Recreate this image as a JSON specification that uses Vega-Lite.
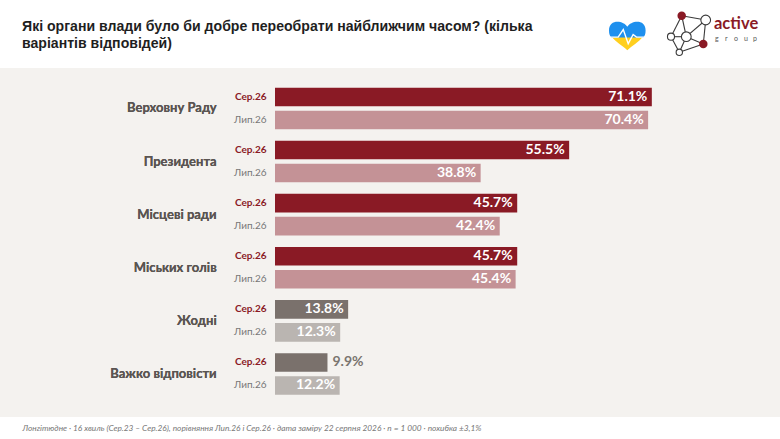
{
"$schema":"https://vega.github.io/schema/vega-lite/v6.json",
"autosize":{"type":"none"},
"padding":{"top":68,"bottom":22,"left":0,"right":0},
"width":780,"height":349,
"background":"#ffffff",
"view":{"fill":"#f4f2ef","stroke":null},
"datasets":{
"bars":[
{"cat":"Верховну Раду","wave":"Сер.26","value":71.1,"label":"71.1%","series":"орган Сер"},
{"cat":"Верховну Раду","wave":"Лип.26","value":70.4,"label":"70.4%","series":"орган Лип"},
{"cat":"Президента","wave":"Сер.26","value":55.5,"label":"55.5%","series":"орган Сер"},
{"cat":"Президента","wave":"Лип.26","value":38.8,"label":"38.8%","series":"орган Лип"},
{"cat":"Місцеві ради","wave":"Сер.26","value":45.7,"label":"45.7%","series":"орган Сер"},
{"cat":"Місцеві ради","wave":"Лип.26","value":42.4,"label":"42.4%","series":"орган Лип"},
{"cat":"Міських голів","wave":"Сер.26","value":45.7,"label":"45.7%","series":"орган Сер"},
{"cat":"Міських голів","wave":"Лип.26","value":45.4,"label":"45.4%","series":"орган Лип"},
{"cat":"Жодні","wave":"Сер.26","value":13.8,"label":"13.8%","series":"інше Сер"},
{"cat":"Жодні","wave":"Лип.26","value":12.3,"label":"12.3%","series":"інше Лип"},
{"cat":"Важко відповісти","wave":"Сер.26","value":9.9,"label":"9.9%","series":"інше Сер"},
{"cat":"Важко відповісти","wave":"Лип.26","value":12.2,"label":"12.2%","series":"інше Лип"}
],
"edges":[
{"id":"a","px":681.7,"py":15.7},{"id":"a","px":705.7,"py":20},
{"id":"b","px":681.7,"py":15.7},{"id":"b","px":671,"py":36.7},
{"id":"c","px":705.7,"py":20},{"id":"c","px":686.3,"py":36.7},
{"id":"d","px":705.7,"py":20},{"id":"d","px":703.3,"py":44},
{"id":"e","px":671,"py":36.7},{"id":"e","px":686.3,"py":36.7},
{"id":"f","px":671,"py":36.7},{"id":"f","px":679.3,"py":52.3},
{"id":"g","px":686.3,"py":36.7},{"id":"g","px":679.3,"py":52.3},
{"id":"h","px":686.3,"py":36.7},{"id":"h","px":703.3,"py":44},
{"id":"i","px":679.3,"py":52.3},{"id":"i","px":703.3,"py":44},
{"id":"j","px":681.7,"py":15.7},{"id":"j","px":686.3,"py":36.7}
],
"nodes":[
{"px":681.7,"py":15.7,"r":42,"kind":"red"},
{"px":705.7,"py":20,"r":95,"kind":"white"},
{"px":671,"py":36.7,"r":50,"kind":"white"},
{"px":686.3,"py":36.7,"r":95,"kind":"white"},
{"px":703.3,"py":44,"r":42,"kind":"red"},
{"px":679.3,"py":52.3,"r":40,"kind":"white"}
],
"heading":[
{"px":22,"py":27,"line":"Які органи влади було би добре переобрати найближчим часом? (кілька"},
{"px":22,"py":44,"line":"варіантів відповідей)"}
],
"heart":[{"px":627.3,"py":36}],
"brand":[{"px":714,"py":29,"name":"active"}],
"brand2":[{"px":715,"py":41,"name":"g"},{"px":725,"py":41,"name":"r"},{"px":734,"py":41,"name":"o"},{"px":744,"py":41,"name":"u"},{"px":753,"py":41,"name":"p"}]
},
"resolve":{"scale":{"x":"independent","y":"independent"},"axis":{"x":"independent","y":"independent"}},
"layer":[
{"data":{"name":"bars"},
"encoding":{
"x":{"field":"value","type":"quantitative","scale":{"domain":[-51.887,95.283],"nice":false,"zero":false},"axis":{"domain":false,"ticks":false,"labels":false,"grid":false,"title":"Лонгітюдне · 16 хвиль (Сер.23 – Сер.26), порівняння Лип.26 і Сер.26 · дата заміру 22 серпня 2026 · n = 1 000 · похибка ±3,1%","titleFont":"Lato","titleFontSize":8.3,"titleFontStyle":"italic","titleFontWeight":"normal","titleColor":"#777777","titleAnchor":"start","titleAlign":"left","titleX":22,"titleY":11.5,"titleBaseline":"middle"}},
"y":{"field":"cat","type":"nominal","sort":["Верховну Раду","Президента","Місцеві ради","Міських голів","Жодні","Важко відповісти"],"scale":{"range":[13.9,332.5],"paddingInner":0,"paddingOuter":0},"axis":null}
},
"layer":[
{"mark":{"type":"bar","cornerRadius":0},
"encoding":{
"yOffset":{"field":"wave","type":"nominal","sort":["Сер.26","Лип.26"],"scale":{"paddingInner":0.19,"paddingOuter":0.25}},
"color":{"field":"series","type":"nominal","legend":null,"scale":{"domain":["орган Сер","орган Лип","інше Сер","інше Лип"],"range":["#8a1a25","#c49296","#7a716c","#bab5b1"]}}
}},
{"transform":[{"filter":"datum.value >= 10"}],
"mark":{"type":"text","align":"right","baseline":"middle","dx":-4.5,"font":"Lato","fontSize":14,"fontWeight":"bold","color":"#ffffff"},
"encoding":{
"yOffset":{"field":"wave","type":"nominal","sort":["Сер.26","Лип.26"],"scale":{"paddingInner":0.19,"paddingOuter":0.25}},
"text":{"field":"label"},
"detail":{"field":"wave"}
}},
{"transform":[{"filter":"datum.value < 10"}],
"mark":{"type":"text","align":"left","baseline":"middle","dx":5,"font":"Lato","fontSize":14,"fontWeight":"bold","color":"#7a7570"},
"encoding":{
"yOffset":{"field":"wave","type":"nominal","sort":["Сер.26","Лип.26"],"scale":{"paddingInner":0.19,"paddingOuter":0.25}},
"text":{"field":"label"}
}},
{"transform":[{"filter":"datum.wave === 'Сер.26'"}],
"mark":{"type":"text","align":"right","baseline":"middle","font":"Lato","fontSize":10,"fontWeight":"bold","color":"#8a1a25"},
"encoding":{
"x":{"datum":-1.6},
"yOffset":{"field":"wave","type":"nominal","sort":["Сер.26","Лип.26"],"scale":{"paddingInner":0.19,"paddingOuter":0.25}},
"text":{"field":"wave"}
}},
{"transform":[{"filter":"datum.wave === 'Лип.26'"}],
"mark":{"type":"text","align":"right","baseline":"middle","font":"Lato","fontSize":10,"color":"#777777"},
"encoding":{
"x":{"datum":-1.6},
"yOffset":{"field":"wave","type":"nominal","sort":["Сер.26","Лип.26"],"scale":{"paddingInner":0.19,"paddingOuter":0.25}},
"text":{"field":"wave"}
}},
{"mark":{"type":"text","align":"right","baseline":"middle","font":"Lato","fontSize":13,"fontWeight":"bold","color":"#5a5552"},
"encoding":{"x":{"datum":-11},"text":{"field":"cat"}}}
]},
{"encoding":{
"x":{"field":"px","type":"quantitative","scale":{"domain":[0,780],"nice":false,"zero":false},"axis":null},
"y":{"field":"py","type":"quantitative","scale":{"domain":[68,417],"reverse":true,"nice":false,"zero":false},"axis":null}
},
"layer":[
{"data":{"name":"heading"},"mark":{"type":"text","align":"left","baseline":"middle","font":"Liberation Sans","fontSize":14.1,"fontWeight":"bold","color":"#1f1f1f"},"encoding":{"text":{"field":"line"}}},
{"data":{"name":"edges"},"mark":{"type":"line","stroke":"#3a3a3a","strokeWidth":1.1},"encoding":{"detail":{"field":"id"},"order":{"field":"px"}}},
{"data":{"name":"nodes"},"transform":[{"filter":"datum.kind === 'white'"}],"mark":{"type":"point","filled":true,"fill":"#ffffff","stroke":"#3a3a3a","strokeWidth":1.1,"opacity":1},"encoding":{"size":{"field":"r","type":"quantitative","scale":null}}},
{"data":{"name":"nodes"},"transform":[{"filter":"datum.kind === 'red'"}],"mark":{"type":"point","filled":true,"fill":"#8a1a25","stroke":"#8a1a25","opacity":1},"encoding":{"size":{"field":"r","type":"quantitative","scale":null}}},
{"data":{"name":"brand"},"mark":{"type":"text","align":"left","baseline":"alphabetic","font":"Lato","fontSize":16.5,"fontWeight":"bold","color":"#8a1a25"},"encoding":{"text":{"field":"name"}}},
{"data":{"name":"brand2"},"mark":{"type":"text","align":"left","baseline":"alphabetic","font":"Lato","fontSize":7,"color":"#555555"},"encoding":{"text":{"field":"name"}}},
{"data":{"name":"heart"},"mark":{"type":"point","filled":true,"opacity":1,"fill":"#ffcf1f","size":1340,"shape":"M-0.88,0.02 C-0.6,0.35 -0.25,0.55 0,0.78 C0.25,0.55 0.6,0.35 0.88,0.02 Z"}},
{"data":{"name":"heart"},"mark":{"type":"point","filled":true,"opacity":1,"fill":"#1e90ee","size":1340,"shape":"M0,-0.5 C-0.2,-0.85 -1,-0.95 -1,-0.3 C-1,-0.1 -0.95,0 -0.88,0.08 L0.88,0.08 C0.95,0 1,-0.1 1,-0.3 C1,-0.95 0.2,-0.85 0,-0.5 Z"}},
{"data":{"name":"heart"},"mark":{"type":"point","filled":false,"opacity":1,"stroke":"#ffffff","strokeWidth":1.4,"size":1340,"shape":"M-1,0.06 L-0.5,0.06 L-0.22,-0.35 L0.05,0.42 L0.32,-0.08 L0.5,0.06 L1,0.06"}}
]}
]
}
